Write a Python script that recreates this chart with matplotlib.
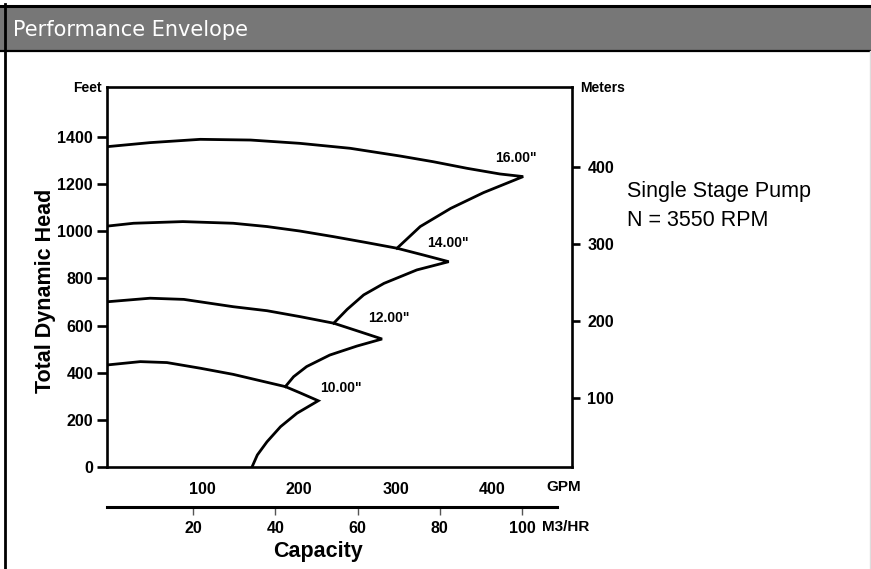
import matplotlib
matplotlib.use("Agg")
import matplotlib.pyplot as plt
from matplotlib.patches import Rectangle
from matplotlib.lines import Line2D

# --- data (GPM, feet) ---
# each list runs along the head curve out to its tip, then back down the run-out line
diameters = ['10.00"', '12.00"', '14.00"', '16.00"']

gpm_10 = [2, 36, 63.5, 98, 132, 160, 186, 201, 220, 198, 181, 167, 157, 151.5]
ft_10 = [433, 447, 443, 419, 393, 366, 341, 315, 281, 228, 171, 107, 51, 0]

gpm_12 = [2, 46, 81, 132, 167, 201, 236, 263, 286, 260, 232, 208, 194.5, 186]
ft_12 = [701, 716, 711, 680, 663, 638, 610, 574, 543, 513, 475, 426, 383, 341]

gpm_14 = [2, 29, 80, 132, 167, 201, 236, 270, 301.5, 329, 355, 322, 288, 267, 250, 236]
ft_14 = [1022, 1034, 1041, 1034, 1020, 1001, 977, 952, 928, 899, 871, 836, 779, 730, 669, 610]

gpm_16 = [2, 46, 98, 150, 201, 253, 305, 339, 374, 408, 432, 391, 357, 325.5, 301.5]
ft_16 = [1359, 1376, 1390, 1387, 1373, 1352, 1319, 1295, 1267, 1243, 1232, 1164, 1097, 1020, 928]

label_gpm = [243, 293, 354, 424]
label_ft = [335, 632, 950, 1311]

gpm_ticks = [100, 200, 300, 400]
ft_ticks = [0, 200, 400, 600, 800, 1000, 1200, 1400]
m_ticks = [100, 200, 300, 400]
m3hr_ticks = [20, 40, 60, 80, 100]

W, H = 871, 569
fig = plt.figure(figsize=(W / 100, H / 100), dpi=100)


def fx(px):
    return px / W


def fy(py):
    return 1 - py / H


SANS = "Liberation Sans"

# title bar and frame lines
fig.patches.append(Rectangle((fx(0), fy(51)), 1, fy(7) - fy(51), transform=fig.transFigure,
                             facecolor="#777777", edgecolor="none"))
fig.lines.append(Line2D([0, 1], [fy(5.5), fy(5.5)], transform=fig.transFigure, color="black", lw=2.2))
fig.lines.append(Line2D([0, 1], [fy(51), fy(51)], transform=fig.transFigure, color="black", lw=1.6))
fig.lines.append(Line2D([fx(4.5), fx(4.5)], [0, fy(4)], transform=fig.transFigure, color="black", lw=2.0))
fig.lines.append(Line2D([fx(869.5), fx(869.5)], [0, fy(51)], transform=fig.transFigure, color="#dddddd", lw=1.0))
fig.text(fx(13), fy(30), "Performance Envelope", color="white", fontsize=15,
         family="DejaVu Sans", va="center", ha="left")

# main chart
ax = fig.add_axes([fx(107), fy(467), fx(572) - fx(107), fy(87) - fy(467)])
ax.set_xlim(1.5, 482.5)
ax.set_ylim(0, 1612)

for g, f in [(gpm_10, ft_10), (gpm_12, ft_12), (gpm_14, ft_14), (gpm_16, ft_16)]:
    ax.plot(g, f, color="black", lw=2.0, solid_joinstyle="miter")

for d, g, f in zip(diameters, label_gpm, label_ft):
    ax.text(g, f, d, ha="center", va="center", family=SANS, weight="bold", fontsize=10)

for s in ax.spines.values():
    s.set_linewidth(1.9)

tick_font = dict(family=SANS, weight="bold", size=11.5)
ax.set_xticks(gpm_ticks)
ax.set_xticklabels([str(t) for t in gpm_ticks], **tick_font)
ax.tick_params(axis="x", length=0, pad=11)
ax.set_yticks(ft_ticks)
ax.set_yticklabels([str(t) for t in ft_ticks], **tick_font)
ax.tick_params(axis="y", direction="out", length=7, width=1.9, pad=3)

ax2 = ax.twinx()
ax2.set_ylim(10.4, 503.9)
ax2.set_yticks(m_ticks)
ax2.set_yticklabels([str(t) for t in m_ticks], **tick_font)
ax2.tick_params(axis="y", direction="out", length=6, width=1.9, pad=5)
for s in ax2.spines.values():
    s.set_visible(False)

# capacity axis in M3/HR
ax3 = fig.add_axes([fx(107), fy(507), fx(557) - fx(107), 0.0001])
ax3.set_xlim(-0.91, 108.5)
ax3.set_yticks([])
for k in ["left", "right", "top"]:
    ax3.spines[k].set_visible(False)
ax3.spines["bottom"].set_linewidth(2.2)
ax3.set_xticks(m3hr_ticks)
ax3.set_xticklabels([str(t) for t in m3hr_ticks], **tick_font)
ax3.tick_params(axis="x", direction="out", length=6, width=1.0, color="#555555", pad=4)
ax3.patch.set_visible(False)

# axis titles / units
fig.text(fx(87), fy(88), "Feet", ha="center", va="center", family=SANS, weight="bold", fontsize=10)
fig.text(fx(603), fy(88), "Meters", ha="center", va="center", family=SANS, weight="bold", fontsize=10)
fig.text(fx(564), fy(487), "GPM", ha="center", va="center", family=SANS, weight="bold", fontsize=11)
fig.text(fx(566), fy(527), "M3/HR", ha="center", va="center", family=SANS, weight="bold", fontsize=11)
fig.text(fx(318), fy(552), "Capacity", ha="center", va="center", family=SANS,
         weight="bold", fontsize=15.5)
fig.text(fx(46), fy(291), "Total Dynamic Head", ha="center", va="center", rotation=90,
         family=SANS, weight="bold", fontsize=15.5)
fig.text(fx(627), fy(192), "Single Stage Pump", ha="left", va="center", family=SANS, fontsize=15.5)
fig.text(fx(627), fy(221), "N = 3550 RPM", ha="left", va="center", family=SANS, fontsize=15.5)

fig.savefig("out.png", dpi=100)
